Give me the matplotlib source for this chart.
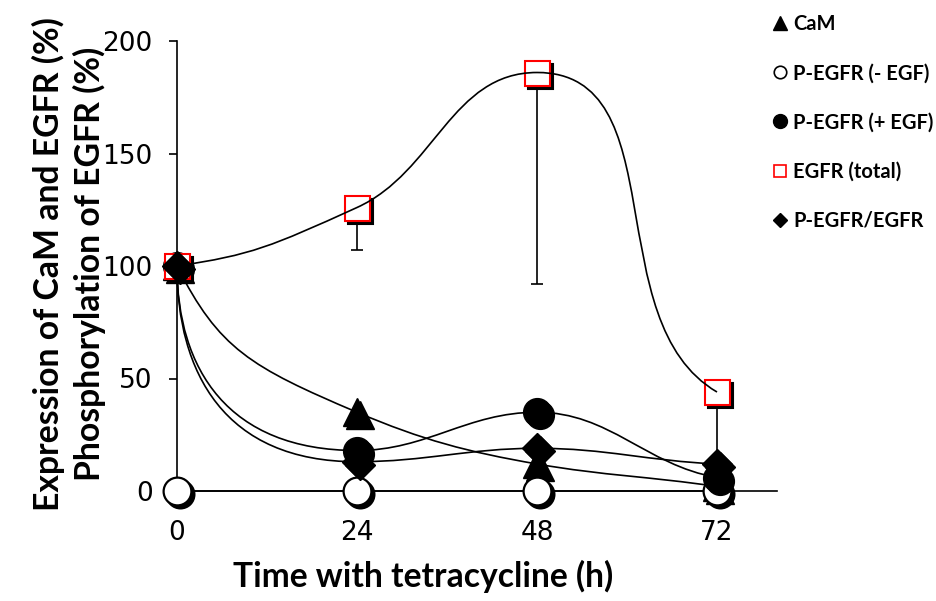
import numpy as np
import matplotlib.pyplot as plt
import matplotlib.transforms as mtransforms
from matplotlib.path import Path
from matplotlib.patches import PathPatch
from matplotlib.lines import Line2D

hours = [0, 24, 48, 72]
cam = [100, 35, 12, 2]
pegfr_minus = [0, 0, 0, 0]
pegfr_plus = [100, 18, 35, 6]
egfr_total = [100, 126, 186, 44]
egfr_err_low = [0, 19, 94, 34]
pegfr_ratio = [100, 13, 19, 12]

labels = ["CaM", "P-EGFR (- EGF)", "P-EGFR (+ EGF)", "EGFR (total)", "P-EGFR/EGFR"]
xticks = [0, 24, 48, 72]
yticks = [0, 50, 100, 150, 200]

LABEL_FONT = "Lato"
TICK_FONT = "DejaVu Sans"


def unit(v):
    return v / np.hypot(v[0], v[1])


def smooth_path(ax, xs, ys, k_start=0.4, k_first=0.5, k=0.38):
    # bezier curve through the points, built in pixel space
    xs = np.asarray(xs, float)
    ys = np.asarray(ys, float)
    n = len(xs)
    P = ax.transData.transform(np.column_stack([xs, ys]))
    d = np.diff(ys) / np.diff(xs)
    T = [None] * n
    for i in range(1, n - 1):
        s = 0.0
        if d[i - 1] * d[i] > 0:
            s = 2 / (1 / d[i - 1] + 1 / d[i])
        v = ax.transData.transform([(xs[i] + 1, ys[i] + s)])[0] - P[i]
        T[i] = unit(v)
    T[-1] = unit(unit(P[-1] - P[-2]) + T[-2])
    # start direction: push away from the chord, opposite to the tangent at point 1
    chord = P[1] - P[0]
    a_c = np.arctan2(chord[1], chord[0])
    a_1 = np.arctan2(T[1][1], T[1][0])
    a_0 = np.clip(a_c + 1.5 * (a_c - a_1), -np.pi / 2, np.pi / 2)
    T[0] = np.array([np.cos(a_0), np.sin(a_0)])
    verts = [P[0]]
    codes = [Path.MOVETO]
    for i in range(n - 1):
        L = np.hypot(*(P[i + 1] - P[i]))
        k1, k2 = (k_start, k_first) if i == 0 else (k, k)
        verts += [P[i] + k1 * L * T[i], P[i + 1] - k2 * L * T[i + 1], P[i + 1]]
        codes += [Path.CURVE4] * 3
    verts = ax.transData.inverted().transform(np.array(verts))
    return Path(verts, codes)


fig = plt.figure(figsize=(9.36, 6.01), dpi=100)
ax = fig.add_axes([177 / 936, 1 - 491 / 601, 600 / 936, 450 / 601])
ax.set_xlim(0, 80)
ax.set_ylim(0, 200)

shadow = mtransforms.offset_copy(ax.transData, fig=fig, x=3, y=-3, units="dots")

# error bars (lower only)
ax.errorbar(hours, egfr_total, yerr=[egfr_err_low, [0] * 4], fmt="none",
            ecolor="black", elinewidth=1.2, capsize=4.5, capthick=1.2, zorder=2)

# smoothed lines
for ys in [pegfr_minus, cam, pegfr_plus, pegfr_ratio]:
    ax.add_patch(PathPatch(smooth_path(ax, hours, ys), fill=False,
                           edgecolor="black", lw=1.2, zorder=3, clip_on=False))

styles = [
    (cam, dict(marker="^", ms=20, mfc="black", mec="black", mew=1)),
    (pegfr_minus, dict(marker="o", ms=20, mfc="white", mec="black", mew=1.6)),
    (pegfr_plus, dict(marker="o", ms=20, mfc="black", mec="black", mew=1)),
    (egfr_total, dict(marker="s", ms=18, mfc="white", mec="red", mew=1.5)),
]
z = 4
for ys, st in styles:
    ax.plot(hours, ys, ls="none", marker=st["marker"], ms=st["ms"], mfc="black",
            mec="black", mew=st["mew"], transform=shadow, zorder=z, clip_on=False)
    ax.plot(hours, ys, ls="none", zorder=z + 0.1, clip_on=False, **st)
    z += 0.2

ax.add_patch(PathPatch(smooth_path(ax, hours, egfr_total), fill=False,
                       edgecolor="black", lw=1.2, zorder=5, clip_on=False))

ax.plot(hours, pegfr_ratio, ls="none", marker="D", ms=15, mfc="black", mec="black",
        transform=shadow, zorder=5.5, clip_on=False)
ax.plot(hours, pegfr_ratio, ls="none", marker="D", ms=15, mfc="black", mec="black",
        zorder=5.6, clip_on=False)

for side in ["top", "right"]:
    ax.spines[side].set_visible(False)
for side in ["left", "bottom"]:
    ax.spines[side].set_linewidth(1.2)
ax.set_xticks(xticks)
ax.set_yticks(yticks)
ax.tick_params(axis="x", length=0, pad=21, labelsize=19)
ax.tick_params(axis="y", length=6, width=1.2, direction="out", pad=11.5, labelsize=19)
for lab in ax.get_xticklabels() + ax.get_yticklabels():
    lab.set_family(TICK_FONT)

ax.set_xlabel("Time with tetracycline (h)", fontsize=24.2, fontweight="bold",
              family=LABEL_FONT)
ax.xaxis.set_label_coords((423 - 177) / 600, (491 - 560) / 450)
ax.set_ylabel("Expression of CaM and EGFR (%)\nPhosphorylation of EGFR (%)",
              fontsize=24.3, fontweight="bold", family=LABEL_FONT, linespacing=1.3)
ax.yaxis.set_label_coords((106 - 177) / 600, 0.505)

handles = [
    Line2D([], [], ls="none", marker="^", ms=10, mfc="black", mec="black"),
    Line2D([], [], ls="none", marker="o", ms=9, mfc="white", mec="black", mew=1.2),
    Line2D([], [], ls="none", marker="o", ms=10, mfc="black", mec="black"),
    Line2D([], [], ls="none", marker="s", ms=9, mfc="white", mec="red", mew=1.2),
    Line2D([], [], ls="none", marker="D", ms=7.5, mfc="black", mec="black"),
]
fig.legend(handles, labels, loc="upper left", bbox_to_anchor=(764 / 936, 0.99),
           frameon=False, handlelength=0.8, handletextpad=0.25, labelspacing=1.45,
           borderaxespad=0, prop=dict(family=LABEL_FONT, weight="bold", size=14.5))

fig.savefig("out.png", dpi=100)
